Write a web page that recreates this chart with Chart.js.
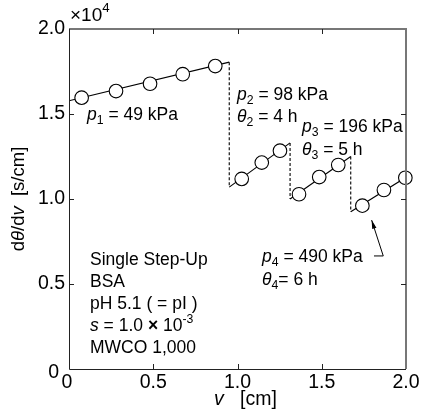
<!DOCTYPE html>
<html>
<head>
<meta charset="utf-8">
<script src="https://cdn.jsdelivr.net/npm/chart.js@4.4.0/dist/chart.umd.min.js"></script>
<style>
  html,body{margin:0;padding:0;background:#fff;}
  #wrap{width:423px;height:414px;}
</style>
</head>
<body>
<div id="wrap"><canvas id="c" width="423" height="414"></canvas></div>
<script>
// measured points, dθ/dv [s/cm] vs v [cm], one array per pressure stage
const v1=[0.075,0.279,0.481,0.675,0.868], r1=[15960,16350,16780,17340,17820];
const v2=[1.025,1.144,1.252],             r2=[11180,12140,12840];
const v3=[1.365,1.485,1.598],             r3=[10280,11290,12000];
const v4=[1.741,1.869,1.996],             r4=[9610,10530,11250];

// step-up positions and fitted line ends of each stage
const stepV=[0.951,1.312,1.672];
const fitStart=[15780,10700,10000,9250];
const fitEnd=[18050,13300,12500,11280];

const xTicks=[0,0.5,1.0,1.5,2.0], xLabels=['0','0.5','1.0','1.5','2.0'];
const yTicks=[0,5000,10000,15000,20000], yLabels=['0','0.5','1.0','1.5','2.0'];

const FONT='"Liberation Sans", Arial, sans-serif';

const pts=(xs,ys)=>xs.map((x,i)=>({x:x,y:ys[i]}));
const bounds=[0,...stepV,2.0];

let datasets=[];
[[v1,r1],[v2,r2],[v3,r3],[v4,r4]].forEach(s=>{
  datasets.push({type:'scatter',data:pts(s[0],s[1]),pointRadius:6.8,pointBackgroundColor:'#fff',
    pointBorderColor:'#000',pointBorderWidth:1.1,order:0,clip:false});
});
fitStart.forEach((y0,i)=>{
  datasets.push({type:'line',data:[{x:bounds[i],y:y0},{x:bounds[i+1],y:fitEnd[i]}],
    borderColor:'#000',borderWidth:1.1,pointRadius:0,order:1});
});
stepV.forEach((v,i)=>{
  datasets.push({type:'line',data:[{x:v,y:fitEnd[i]},{x:v,y:fitStart[i+1]}],
    borderColor:'#000',borderWidth:1.1,borderDash:[3,2],pointRadius:0,order:1});
});

// draw a run of text parts (italic / sub / sup)
function drawRuns(ctx,x,y,parts,size){
  ctx.textBaseline='middle'; ctx.textAlign='left'; ctx.fillStyle='#000';
  parts.forEach(p=>{
    let sz=size, dy=0;
    if(p.sub){sz=size*0.7; dy=size*0.3;}
    if(p.sup){sz=size*0.7; dy=-size*0.38;}
    ctx.font=(p.i?'italic ':'')+(p.b?'bold ':'')+sz+'px '+FONT;
    ctx.fillText(p.t,x,y+dy);
    x+=ctx.measureText(p.t).width;
  });
}

const decor={
  id:'decor',
  afterDraw(chart){
    const ctx=chart.ctx, a=chart.chartArea, xs=chart.scales.x, ys=chart.scales.y;
    ctx.save();
    // frame
    ctx.strokeStyle='#777'; ctx.lineWidth=2;
    ctx.beginPath(); ctx.moveTo(a.left,a.top); ctx.lineTo(a.right,a.top); ctx.lineTo(a.right,a.bottom); ctx.stroke();
    ctx.strokeStyle='#222'; ctx.lineWidth=1;
    ctx.beginPath(); ctx.moveTo(a.left+0.5,a.top); ctx.lineTo(a.left+0.5,a.bottom+0.5); ctx.lineTo(a.right,a.bottom+0.5); ctx.stroke();
    // inward ticks
    ctx.beginPath();
    xTicks.slice(1,-1).forEach(t=>{const px=Math.round(xs.getPixelForValue(t))+0.5;
      ctx.moveTo(px,a.bottom); ctx.lineTo(px,a.bottom-5); ctx.moveTo(px,a.top); ctx.lineTo(px,a.top+5);});
    yTicks.slice(1,-1).forEach(t=>{const py=Math.round(ys.getPixelForValue(t))+0.5;
      ctx.moveTo(a.left,py); ctx.lineTo(a.left+5,py); ctx.moveTo(a.right,py); ctx.lineTo(a.right-5,py);});
    ctx.stroke();
    // tick labels
    ctx.fillStyle='#000'; ctx.font='19.5px '+FONT;
    ctx.textAlign='right'; ctx.textBaseline='middle';
    yTicks.forEach((t,i)=>{
      if(t===0) ctx.fillText(yLabels[i],a.left-10,ys.getPixelForValue(t)+4);
      else ctx.fillText(yLabels[i],a.left-4,ys.getPixelForValue(t));
    });
    ctx.textAlign='center'; ctx.textBaseline='top';
    xTicks.forEach((t,i)=>{
      const px=xs.getPixelForValue(t)+(t===0?-2:0);
      ctx.fillText(xLabels[i],px,a.bottom+4);
    });
    // multiplier
    drawRuns(ctx,a.left+1,a.top-13,[{t:'×10'},{t:'4',sup:true}],19);
    // axis titles
    ctx.save(); ctx.translate(19,(a.top+a.bottom)/2); ctx.rotate(-Math.PI/2);
    const yt=[{t:'d'},{t:'θ',i:true},{t:'/d'},{t:'v',i:true},{t:'  [s/cm]'}];
    let w=0; yt.forEach(p=>{ctx.font=(p.i?'italic ':'')+'18.5px '+FONT; w+=ctx.measureText(p.t).width;});
    drawRuns(ctx,-w/2,0,yt,18.5);
    ctx.restore();
    drawRuns(ctx,214,400,[{t:'v',i:true},{t:'   [cm]'}],19.5);
    // stage labels
    const S=17.5;
    drawRuns(ctx,87,115,[{t:'p',i:true},{t:'1',sub:true},{t:' = 49 kPa'}],S);
    drawRuns(ctx,237,95,[{t:'p',i:true},{t:'2',sub:true},{t:' = 98 kPa'}],S);
    drawRuns(ctx,237,117,[{t:'θ',i:true},{t:'2',sub:true},{t:' = 4 h'}],S);
    drawRuns(ctx,302,127,[{t:'p',i:true},{t:'3',sub:true},{t:' = 196 kPa'}],S);
    drawRuns(ctx,302,150,[{t:'θ',i:true},{t:'3',sub:true},{t:' = 5 h'}],S);
    drawRuns(ctx,262,257,[{t:'p',i:true},{t:'4',sub:true},{t:' = 490 kPa'}],S);
    drawRuns(ctx,262,280,[{t:'θ',i:true},{t:'4',sub:true},{t:'= 6 h'}],S);
    // conditions block
    const lines=[
      [{t:'Single Step-Up'}],
      [{t:'BSA'}],
      [{t:'pH 5.1 ( = pI )'}],
      [{t:'s',i:true},{t:' = 1.0 '},{t:'×',b:true},{t:' 10'},{t:'-3',sup:true}],
      [{t:'MWCO 1,000'}]
    ];
    lines.forEach((l,i)=>drawRuns(ctx,90,260+i*22,l,S));
    // arrow to stage 4
    const ax0=xs.getPixelForValue(1.81), ax1=xs.getPixelForValue(1.865), ay0=ys.getPixelForValue(6650);
    const hx=xs.getPixelForValue(1.796), hy=ys.getPixelForValue(8760);
    ctx.strokeStyle='#000'; ctx.lineWidth=1;
    ctx.beginPath(); ctx.moveTo(ax0,ay0); ctx.lineTo(ax1,ay0); ctx.lineTo(hx,hy); ctx.stroke();
    const ang=Math.atan2(hy-ay0,hx-ax1);
    ctx.fillStyle='#000'; ctx.beginPath();
    ctx.moveTo(hx,hy);
    ctx.lineTo(hx-9*Math.cos(ang-0.25),hy-9*Math.sin(ang-0.25));
    ctx.lineTo(hx-9*Math.cos(ang+0.25),hy-9*Math.sin(ang+0.25));
    ctx.closePath(); ctx.fill();
    ctx.restore();
  }
};

new Chart(document.getElementById('c'),{
  type:'scatter',
  data:{datasets:datasets},
  options:{
    responsive:false, animation:false, devicePixelRatio:1,
    layout:{padding:{left:0,right:17,top:29,bottom:0}},
    plugins:{legend:{display:false},tooltip:{enabled:false}},
    scales:{
      x:{type:'linear',min:0,max:2,ticks:{display:false},grid:{display:false},border:{display:false},
        afterFit(s){s.height=45;}},
      y:{type:'linear',min:0,max:20000,ticks:{display:false},grid:{display:false},border:{display:false},
        afterFit(s){s.width=69;}}
    }
  },
  plugins:[decor]
});
</script>
</body>
</html>
